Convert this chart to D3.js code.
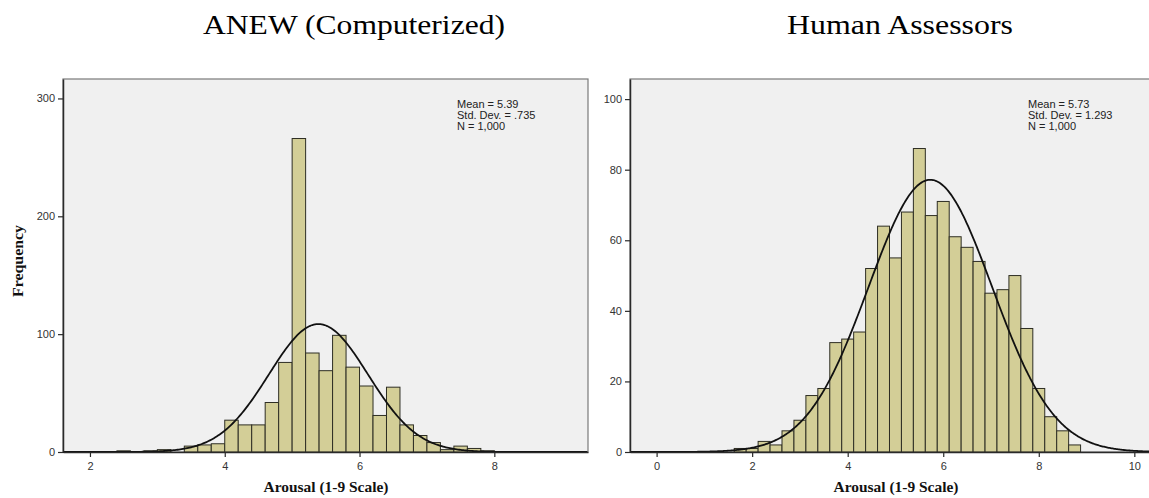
<!DOCTYPE html>
<html>
<head>
<meta charset="utf-8">
<script src="https://cdn.jsdelivr.net/npm/d3@7"></script>
<style>
  body { margin: 0; background: #fff; }
</style>
</head>
<body>
<svg id="chart" width="1149" height="498"></svg>
<script>
// ANEW (computerized) histogram: bin lower edges and counts
const anewEdges  = [2.4, 2.8, 3.0, 3.4, 3.6, 3.8, 4.0, 4.2, 4.4, 4.6, 4.8, 5.0, 5.2, 5.4, 5.6, 5.8, 6.0, 6.2, 6.4, 6.6, 6.8, 7.0, 7.2, 7.4, 7.6, 7.8];
const anewCounts = [1,   1,   2,   5,   6,   7,   27,  23,  23,  42,  76,  266, 84,  69,  99,  72,  56,  31,  55,  23,  14,  8,   2,   5,   3,   1];
const anewBinWidth = 0.2;
const anewMean = 5.39, anewSd = 0.735, anewN = 1000;
const anewStatLines = ['Mean = 5.39', 'Std. Dev. = .735', 'N = 1,000'];
const anewXTicks = [2, 4, 6, 8];
const anewYTicks = [0, 100, 200, 300];

// Human assessors histogram
const humanEdges  = [1.625, 1.875, 2.125, 2.375, 2.625, 2.875, 3.125, 3.375, 3.625, 3.875, 4.125, 4.375, 4.625, 4.875, 5.125, 5.375, 5.625, 5.875, 6.125, 6.375, 6.625, 6.875, 7.125, 7.375, 7.625, 7.875, 8.125, 8.375, 8.625];
const humanCounts = [1,     1,     3,     2,     6,     9,     16,    18,    31,    32,    34,    52,    64,    55,    68,    86,    67,    71,    61,    58,    54,    45,    46,    50,    35,    18,    10,    6,     2];
const humanBinWidth = 0.25;
const humanMean = 5.73, humanSd = 1.293, humanN = 1000;
const humanStatLines = ['Mean = 5.73', 'Std. Dev. = 1.293', 'N = 1,000'];
const humanXTicks = [0, 2, 4, 6, 8, 10];
const humanYTicks = [0, 20, 40, 60, 80, 100];

const titles = ['ANEW (Computerized)', 'Human Assessors'];
const xLabel = 'Arousal (1-9 Scale)';
const yLabel = 'Frequency';

const svg = d3.select('#chart');
const serif = '"Liberation Serif", "Times New Roman", serif';
const sans = '"Liberation Sans", Arial, sans-serif';

function drawPanel(p) {
  const x = d3.scaleLinear().domain(p.xDomain).range([p.left, p.right]);
  const y = d3.scaleLinear().domain(p.yDomain).range([p.bottom, p.top]);
  const g = svg.append('g');

  g.append('rect')
      .attr('x', p.left).attr('y', p.top)
      .attr('width', p.right - p.left).attr('height', p.bottom - p.top)
      .attr('fill', '#f0f0f0')
      .attr('stroke', '#7a7a7a')
      .attr('stroke-width', 1.2);

  g.selectAll('.bar')
      .data(p.edges.map((e, i) => ({x0: e, x1: e + p.binWidth, n: p.counts[i]})))
      .enter().append('rect')
      .attr('class', 'bar')
      .attr('x', d => x(d.x0))
      .attr('y', d => y(d.n))
      .attr('width', d => x(d.x1) - x(d.x0))
      .attr('height', d => y(0) - y(d.n))
      .attr('fill', '#d3ce97')
      .attr('stroke', '#2e2e24')
      .attr('stroke-width', 1);

  // fitted normal curve
  const k = p.n * p.binWidth / (p.sd * Math.sqrt(2 * Math.PI));
  const pts = d3.range(p.xDomain[0], p.xDomain[1], 0.02)
      .map(v => [v, k * Math.exp(-0.5 * Math.pow((v - p.mean) / p.sd, 2))]);
  g.append('path')
      .attr('d', d3.line().x(d => x(d[0])).y(d => y(d[1]))(pts))
      .attr('fill', 'none')
      .attr('stroke', '#111')
      .attr('stroke-width', 1.8);

  const yAxis = g.append('g')
      .attr('transform', 'translate(' + p.left + ',0)')
      .call(d3.axisLeft(y).tickValues(p.yTicks).tickSize(5).tickSizeOuter(0).tickPadding(3));
  const xAxis = g.append('g')
      .attr('transform', 'translate(0,' + p.bottom + ')')
      .call(d3.axisBottom(x).tickValues(p.xTicks).tickSize(5).tickSizeOuter(0).tickPadding(5));
  [xAxis, yAxis].forEach(a => {
    a.select('.domain').attr('stroke', '#2a2a2a').attr('stroke-width', 1.5);
    a.selectAll('.tick line').attr('stroke', '#2a2a2a').attr('stroke-width', 1.2);
    a.selectAll('.tick text').attr('fill', '#333').style('font', '11px ' + sans);
  });

  g.append('text')
      .selectAll('tspan')
      .data(p.stats)
      .enter().append('tspan')
      .attr('x', p.statX)
      .attr('y', (d, i) => p.statY + i * 11)
      .text(d => d);
  g.selectAll('text').filter(function() { return !this.closest('.tick'); })
      .attr('fill', '#222').style('font', '11px ' + sans);

  g.append('text')
      .attr('x', p.titleX).attr('y', 34)
      .attr('text-anchor', 'middle')
      .attr('textLength', p.titleW).attr('lengthAdjust', 'spacingAndGlyphs')
      .style('font', '28px ' + serif)
      .attr('fill', '#000')
      .text(p.title);

  g.append('text')
      .attr('x', p.labelX).attr('y', 492)
      .attr('text-anchor', 'middle')
      .attr('textLength', 125).attr('lengthAdjust', 'spacingAndGlyphs')
      .style('font', 'bold 15px ' + serif)
      .attr('fill', '#111')
      .text(xLabel);
}

drawPanel({
  edges: anewEdges, counts: anewCounts, binWidth: anewBinWidth,
  mean: anewMean, sd: anewSd, n: anewN, stats: anewStatLines,
  xTicks: anewXTicks, yTicks: anewYTicks,
  xDomain: [1.6, 9.39], yDomain: [0, 316.5],
  left: 63, right: 588, top: 79, bottom: 452,
  statX: 457, statY: 108,
  title: titles[0], titleX: 354, titleW: 302,
  labelX: 326
});

drawPanel({
  edges: humanEdges, counts: humanCounts, binWidth: humanBinWidth,
  mean: humanMean, sd: humanSd, n: humanN, stats: humanStatLines,
  xTicks: humanXTicks, yTicks: humanYTicks,
  xDomain: [-0.557, 10.37], yDomain: [0, 105.7],
  left: 630, right: 1152, top: 79, bottom: 452,
  statX: 1028, statY: 108,
  title: titles[1], titleX: 900, titleW: 226,
  labelX: 896
});

svg.append('text')
    .attr('transform', 'translate(23,261) rotate(-90)')
    .attr('text-anchor', 'middle')
    .attr('textLength', 72).attr('lengthAdjust', 'spacingAndGlyphs')
    .style('font', 'bold 15px ' + serif)
    .attr('fill', '#111')
    .text(yLabel);
</script>
</body>
</html>
